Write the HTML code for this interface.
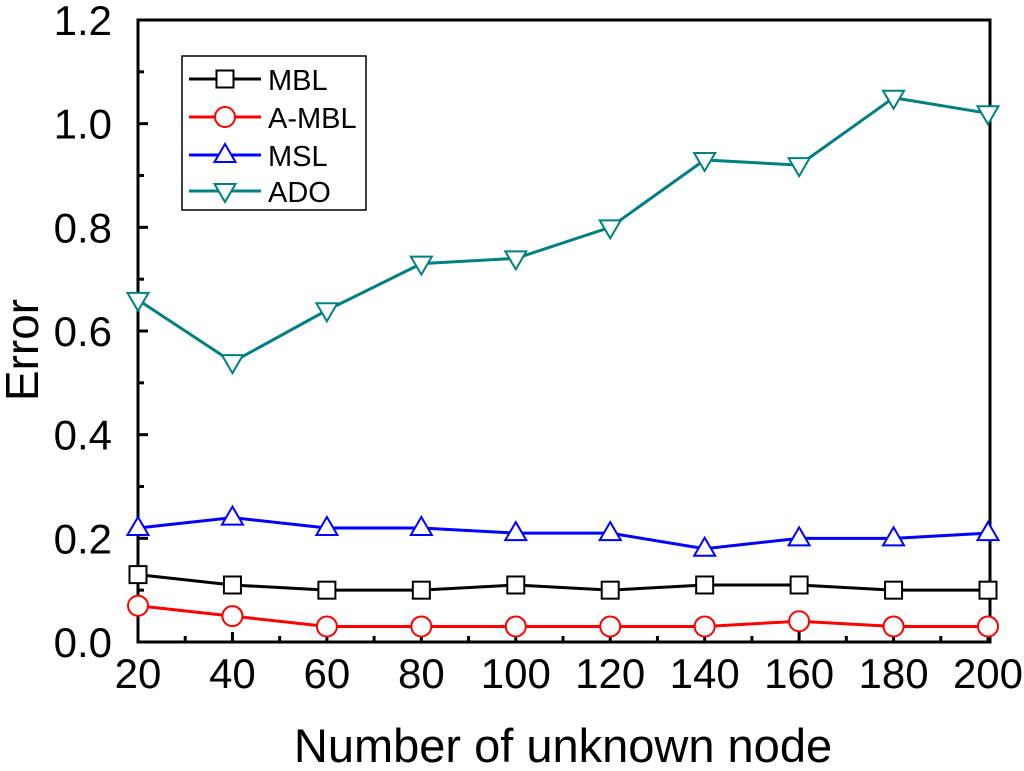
<!DOCTYPE html>
<html><head><meta charset="utf-8"><style>
html,body{margin:0;padding:0;background:#fff;}
svg{display:block;font-family:"Liberation Sans",Arial,sans-serif;}
</style></head><body>
<svg id="chart" width="1024" height="771">
<g id="axes"></g><g id="series"></g><g id="legend"></g>
</svg>
<script>
const categories=[20,40,60,80,100,120,140,160,180,200];
const mbl=[0.13,0.11,0.10,0.10,0.11,0.10,0.11,0.11,0.10,0.10];
const ambl=[0.07,0.05,0.03,0.03,0.03,0.03,0.03,0.04,0.03,0.03];
const msl=[0.22,0.24,0.22,0.22,0.21,0.21,0.18,0.20,0.20,0.21];
const ado=[0.66,0.54,0.64,0.73,0.74,0.80,0.93,0.92,1.05,1.02];
const xTicks=[20,40,60,80,100,120,140,160,180,200];
const yTicks=[0.0,0.2,0.4,0.6,0.8,1.0,1.2];
const yTickLabels=["0.0","0.2","0.4","0.6","0.8","1.0","1.2"];

const NS="http://www.w3.org/2000/svg";
const L=138,R=988,T=20,B=642;
const xs=v=>L+(v-20)/(180)*(R-L);
const ys=v=>B-v/1.2*(B-T);
function mk(tag,attrs,parent){const e=document.createElementNS(NS,tag);for(const k in attrs)e.setAttribute(k,attrs[k]);parent.appendChild(e);return e;}
const axes=document.getElementById('axes');
let f=mk('rect',{x:L,y:T,width:R-L+2,height:B-T,fill:'none',stroke:'#000','stroke-width':3},axes);


xTicks.forEach((v,i)=>{
  const x=xs(v);
  let t=mk('line',{x1:x,x2:x,y1:B,y2:B-10,stroke:'#000','stroke-width':3},axes);
  
  
  if(i<xTicks.length-1){const xm=xs(v+10);let m=mk('line',{x1:xm,x2:xm,y1:B,y2:B-6,stroke:'#000','stroke-width':3},axes);
  
  }
  let lb=mk('text',{x:x,y:B+46,'font-size':42,'text-anchor':'middle'},axes);lb.textContent=v;
  
  
});
yTicks.forEach((v,i)=>{
  const y=ys(v);
  let t=mk('line',{x1:L,x2:L+10,y1:y,y2:y,stroke:'#000','stroke-width':3},axes);
  
  
  if(i<yTicks.length-1){const ym=ys(v+0.1);let m=mk('line',{x1:L,x2:L+6,y1:ym,y2:ym,stroke:'#000','stroke-width':3},axes);
  
  }
  let lb=mk('text',{x:L-26,y:y+15,'font-size':42,'text-anchor':'end'},axes);lb.textContent=yTickLabels[i];
  
  
});
let xt=mk('text',{x:563,y:762,'font-size':47,'text-anchor':'middle'},axes);xt.textContent='Number of unknown node';


let yt=mk('text',{x:0,y:0,'font-size':46,'text-anchor':'middle',transform:'translate(38,350) rotate(-90)'},axes);yt.textContent='Error';



function marker(type,x,y,color,g){
  let e;
  if(type==='sq')e=mk('rect',{x:x-8.5,y:y-8.5,width:17,height:17,fill:'#fff',stroke:color,'stroke-width':2},g);
  else if(type==='ci')e=mk('circle',{cx:x,cy:y,r:10,fill:'#fff',stroke:color,'stroke-width':2},g);
  else if(type==='up')e=mk('polygon',{points:`${x},${y-11} ${x-10.5},${y+7} ${x+10.5},${y+7}`,fill:'#fff',stroke:color,'stroke-width':2},g);
  else e=mk('polygon',{points:`${x},${y+11} ${x-10.5},${y-7} ${x+10.5},${y-7}`,fill:'#fff',stroke:color,'stroke-width':2},g);
  return e;
}
const seriesDefs=[["MBL",mbl,'#000','sq'],["A-MBL",ambl,'#ff0000','ci'],["MSL",msl,'#0000ff','up'],["ADO",ado,'#008080','dn']];
const sg=document.getElementById('series');
seriesDefs.forEach(([name,vals,c,m])=>{
  const g=mk('g',{},sg);
  
  
  const pl=mk('polyline',{points:vals.map((v,i)=>xs(categories[i])+','+ys(v)).join(' '),fill:'none',stroke:c,'stroke-width':3},g);
  
  
  vals.forEach((v,i)=>{const e=marker(m,xs(categories[i]),ys(v),c,g);
    
    });
});
const lg=document.getElementById('legend');


mk('rect',{x:182,y:56,width:184,height:154,fill:'#fff',stroke:'#000','stroke-width':1.5},lg);
[79,117,155,191].forEach((y,i)=>{
  const [name,,c,m]=seriesDefs[i];
  const g=mk('g',{},lg);
  
  
  mk('line',{x1:189,x2:261,y1:y,y2:y,stroke:c,'stroke-width':3},g);
  marker(m,225,y,c,g);
  const t=mk('text',{x:268,y:y+11,'font-size':29},g);t.textContent=name;
});
</script>
</body></html>
